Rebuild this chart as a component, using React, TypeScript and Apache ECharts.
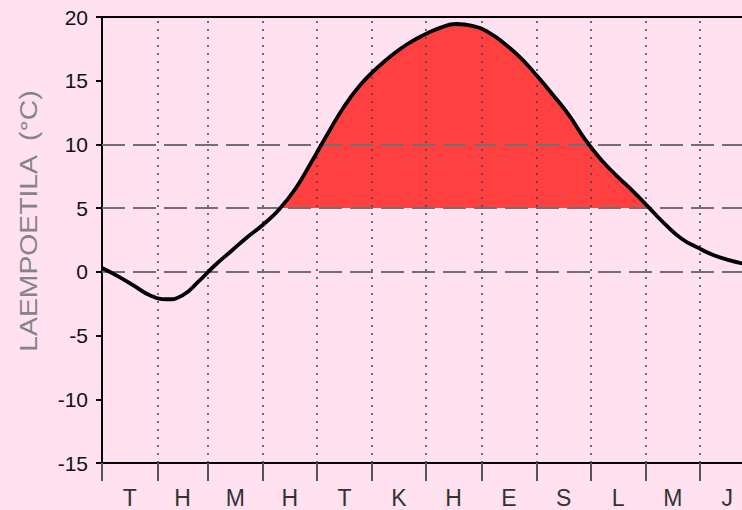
import React, { useEffect, useRef } from "react";
import * as echarts from "echarts";

// Month initials (Finnish) and first day offset of each month (+ year end)
const monthLabels = ["T", "H", "M", "H", "T", "K", "H", "E", "S", "L", "M", "J"];
const monthStarts = [0, 31, 59, 90, 120, 151, 181, 212, 243, 273, 304, 334, 365];

// Day of year and temperature (°C)
const days = [
  0, 9, 18, 27, 36, 45, 54, 63, 72, 81, 90, 99, 108, 117, 126, 135, 144, 153, 162,
  171, 180, 189, 198, 207, 216, 225, 234, 243, 252, 261, 270, 279, 288, 297, 306,
  315, 324, 333, 342, 351, 360, 365,
];
const temps = [
  0.3, -0.35, -1.1, -1.85, -2.15, -1.85, -0.75, 0.5, 1.6, 2.7, 3.7, 4.9, 6.5, 8.6,
  10.8, 12.9, 14.6, 15.9, 17.0, 17.9, 18.6, 19.15, 19.45, 19.3, 18.8, 17.9, 16.8,
  15.4, 13.9, 12.3, 10.4, 8.8, 7.5, 6.3, 5.0, 3.7, 2.6, 1.9, 1.3, 0.9, 0.6, 0.5,
];

const yMin = -15;
const yMax = 20;
const yStep = 5;
const dashedLevels = [0, 5, 10];
const threshold = 5;
const yTitle = "LAEMPOETILA  (°C)";

export default function App() {
  const ref = useRef<HTMLDivElement>(null);

  useEffect(() => {
    document.body.style.margin = "0";
    if (!ref.current) return;
    const chart = echarts.init(ref.current, null, { renderer: "svg" });
    const data = days.map((d, i) => [d, temps[i]]);
    const mids = monthStarts.slice(0, 12).map((s, i) => (s + monthStarts[i + 1]) / 2);

    const markData: any[] = [
      ...monthStarts.slice(1, 12).map((d) => ({
        xAxis: d,
        lineStyle: { type: [2, 6], color: "#444", width: 1.5 },
      })),
      ...dashedLevels.map((v) => ({
        yAxis: v,
        lineStyle: { type: [23, 8], color: "#707070", width: 2 },
      })),
      { yAxis: yMax, lineStyle: { type: "solid", color: "#000", width: 2 } },
    ];

    chart.setOption({
      animation: false,
      backgroundColor: "#FFE1EF",
      grid: { left: 102, top: 17, width: 653, height: 446, outerBoundsMode: "none" },
      xAxis: {
        type: "value",
        min: 0,
        max: 365,
        axisLine: { show: true, onZero: false, lineStyle: { color: "#000", width: 2 } },
        axisTick: {
          show: true,
          length: 18,
          customValues: monthStarts.slice(0, 12),
          lineStyle: { color: "#555", width: 2 },
        },
        axisLabel: {
          show: true,
          customValues: mids,
          margin: 23,
          fontSize: 23,
          lineHeight: 23,
          fontFamily: "Liberation Sans",
          color: "#333",
          formatter: (v: number) => {
            const i = mids.findIndex((m) => Math.abs(m - v) < 0.01);
            return i >= 0 ? monthLabels[i] : "";
          },
        },
        splitLine: { show: false },
      },
      yAxis: {
        type: "value",
        min: yMin,
        max: yMax,
        interval: yStep,
        axisLine: { show: true, lineStyle: { color: "#000", width: 2 } },
        axisTick: { show: true, length: 6, lineStyle: { color: "#000", width: 2 } },
        axisLabel: {
          fontSize: 21,
          fontFamily: "Liberation Sans",
          color: "#111",
          margin: 14,
        },
        splitLine: { show: false },
      },
      visualMap: {
        type: "piecewise",
        show: false,
        seriesIndex: 0,
        dimension: 1,
        pieces: [
          { lte: threshold, color: "rgba(255,64,64,0)" },
          { gt: threshold, lte: 100, color: "#FF4040" },
          { gt: 100, color: "#FF4040" },
        ],
      },
      series: [
        {
          type: "line",
          data,
          smooth: 0.5,
          showSymbol: false,
          symbol: "none",
          lineStyle: { width: 0 },
          areaStyle: { origin: "start", opacity: 1 },
          z: 2,
          silent: true,
          markLine: {
            silent: true,
            symbol: ["none", "none"],
            label: { show: false },
            emphasis: { disabled: true },
            data: markData,
          },
        },
        {
          type: "line",
          data,
          smooth: 0.5,
          showSymbol: false,
          symbol: "none",
          lineStyle: { color: "#000", width: 3.8 },
          z: 10,
          silent: true,
        },
      ],
      graphic: [
        {
          type: "text",
          x: 29,
          y: 221,
          rotation: Math.PI / 2,
          scaleX: 1.18,
          style: {
            text: yTitle,
            font: "24px 'Liberation Sans'",
            fill: "#858585",
            textAlign: "center",
            textVerticalAlign: "middle",
            align: "center",
            verticalAlign: "middle",
          },
        },
      ],
    });
    return () => chart.dispose();
  }, []);

  return (
    <div
      ref={ref}
      style={{ position: "fixed", left: 0, top: 0, width: 742, height: 510 }}
    />
  );
}
